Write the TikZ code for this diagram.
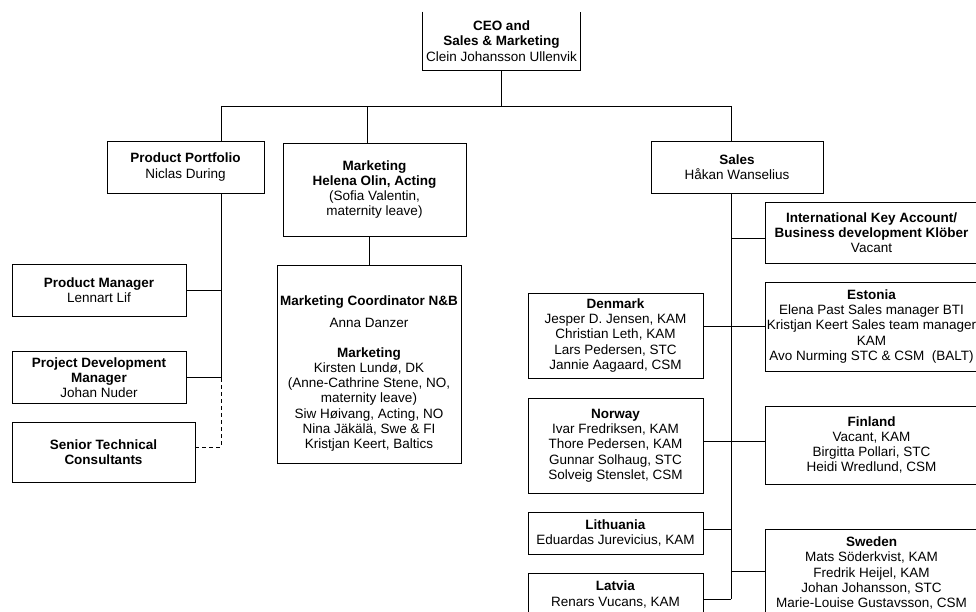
\documentclass[tikz,border=0pt]{standalone}
\usepackage{fontspec}
\setmainfont{Liberation Sans}
\begin{document}
\begin{tikzpicture}[x=1pt,y=-1pt]
\tikzset{
  box/.style={draw=black, line width=0.9pt, fill=white, align=center, inner sep=0pt,
              font=\fontsize{13.5}{15.3}\selectfont},
  link/.style={draw=black, line width=0.9pt},
  dlink/.style={draw=black, line width=0.9pt, dash pattern=on 4pt off 3pt}
}
\clip (0,0) rectangle (976,612);
\fill[white] (0,0) rectangle (976,612);

% top level (box runs off the top edge, so only three sides are drawn)
\node[box, draw=none, fill=none, minimum width=157pt, minimum height=58pt] (ceo) at (501.5,41)
  {\textbf{CEO and}\\\textbf{Sales \& Marketing}\\Clein Johansson Ullenvik};
\draw[link] (ceo.north west) -- (ceo.south west) -- (ceo.south east) -- (ceo.north east);

% second level
\node[box, minimum width=157pt, minimum height=52pt] (pp) at (185.5,167)
  {\textbf{Product Portfolio}\\Niclas During};
\node[box, minimum width=183pt, minimum height=93pt] (mkt) at (374.5,189.5)
  {\textbf{Marketing}\\\textbf{Helena Olin, Acting}\\(Sofia Valentin,\\maternity leave)};
\node[box, minimum width=172pt, minimum height=52pt] (sales) at (737,167)
  {\textbf{Sales}\\Håkan Wanselius};

% product portfolio branch
\node[box, minimum width=174pt, minimum height=52pt] (pm) at (99,290)
  {\textbf{Product Manager}\\Lennart Lif};
\node[box, minimum width=174pt, minimum height=52pt] (pdm) at (99,377.5)
  {\textbf{Project Development}\\\textbf{Manager}\\Johan Nuder};
\node[box, minimum width=183pt, minimum height=60pt] (stc) at (103.5,452)
  {\textbf{Senior Technical}\\\textbf{Consultants}};

% marketing branch
\node[box, minimum width=184pt, minimum height=198pt] (mco) at (369,364)
  {\rule{0pt}{28.6pt}\textbf{Marketing Coordinator N\&B}\\[7.4pt]Anna Danzer\\[14pt]%
   \textbf{Marketing}\\Kirsten Lundø, DK\\(Anne-Cathrine Stene, NO,\\maternity leave)\\%
   Siw Høivang, Acting, NO\\Nina Jäkälä, Swe \& FI\\Kristjan Keert, Baltics};

% sales branch, left column
\node[box, minimum width=175pt, minimum height=85pt] (den) at (615.5,335.5)
  {\textbf{Denmark}\\Jesper D. Jensen, KAM\\Christian Leth, KAM\\Lars Pedersen, STC\\Jannie Aagaard, CSM};
\node[box, minimum width=175pt, minimum height=95pt] (nor) at (615.5,445.5)
  {\textbf{Norway}\\Ivar Fredriksen, KAM\\Thore Pedersen, KAM\\Gunnar Solhaug, STC\\Solveig Stenslet, CSM};
\node[box, minimum width=175pt, minimum height=42pt] (lit) at (615.5,533)
  {\textbf{Lithuania}\\Eduardas Jurevicius, KAM};
\node[box, minimum width=175pt, minimum height=43pt] (lat) at (615.5,594.5)
  {\textbf{Latvia}\\Renars Vucans, KAM};

% sales branch, right column
\node[box, minimum width=213pt, minimum height=61pt] (ika) at (871.5,232.5)
  {\textbf{International Key Account/}\\\textbf{Business development Klöber}\\Vacant};
\node[box, minimum width=213pt, minimum height=89pt] (est) at (871.5,326.5)
  {\textbf{Estonia}\\Elena Past Sales manager BTI\\Kristjan Keert Sales team manager\\KAM\\Avo Nurming STC \& CSM~ (BALT)};
\node[box, minimum width=213pt, minimum height=78pt] (fin) at (871.5,445)
  {\textbf{Finland}\\Vacant, KAM\\Birgitta Pollari, STC\\Heidi Wredlund, CSM};
\node[box, minimum width=213pt, minimum height=88pt] (swe) at (871.5,573)
  {\textbf{Sweden}\\Mats Söderkvist, KAM\\Fredrik Heijel, KAM\\Johan Johansson, STC\\Marie-Louise Gustavsson, CSM};

% bus and trunk points
\coordinate (busL) at (221,106);
\coordinate (busR) at (731,106);
\coordinate (lt) at (221,377.5);
\coordinate (rt) at (731,599);

% connectors
\draw[link] (ceo.south) -- (ceo.south |- busL);
\draw[link] (busL) -- (busR);
\draw[link] (busL) -- (busL |- pp.north);
\draw[link] ([xshift=-7.5pt]mkt.north) -- ([xshift=-7.5pt]mkt.north |- busL);
\draw[link] (busR) -- (busR |- sales.north);
\draw[link] (mco.north) -- (mco.north |- mkt.south);

\draw[link] (pp.south -| busL) -- (lt);
\draw[link] (pm.east) -- (pm.east -| busL);
\draw[link] (pdm.east) -- (lt);
\draw[dlink] ([yshift=5pt]stc.east) -| (lt);

\draw[link] (sales.south -| busR) -- (rt);
\draw[link] ([yshift=-5.5pt]ika.west) -- ([yshift=-5.5pt]ika.west -| busR);
\draw[link] (est.west) -- (est.west -| den.east);
\draw[link] ([yshift=3.5pt]fin.west) -- ([yshift=3.5pt]fin.west -| nor.east);
\draw[link] ([yshift=4pt]lit.east) -- ([yshift=4pt]lit.east -| busR);
\draw[link] ([yshift=2pt]swe.west) -- ([yshift=2pt]swe.west -| busR);
\draw[link] ([yshift=-4.5pt]lat.east) -- (rt);
\end{tikzpicture}
\end{document}
